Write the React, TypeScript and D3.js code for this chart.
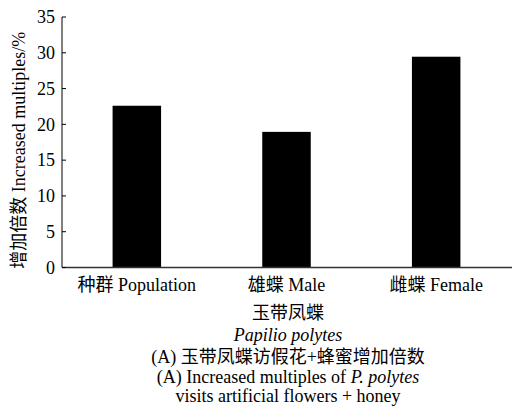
import React from "react";
import * as d3 from "d3";

const categories = ["种群 Population", "雄蝶 Male", "雌蝶 Female"];
const values = [22.6, 18.95, 29.45];
const yTicks = [0, 5, 10, 15, 20, 25, 30, 35];
const yLabel = "增加倍数 Increased multiples/%";
const groupLabel = "玉带凤蝶";
const speciesLabel = "Papilio polytes";
const captionCN = "(A) 玉带凤蝶访假花+蜂蜜增加倍数";
const captionEN1 = "(A) Increased multiples of ";
const captionEN1i = "P. polytes";
const captionEN2 = "visits artificial flowers + honey";

const W = 512, H = 417;
const m = { left: 62, right: 1, top: 17, bottom: 150 };
const FONT = "'Liberation Serif', 'Times New Roman', 'Noto Sans CJK SC', serif";

export default function App() {
  const x = d3.scaleBand<string>().domain(categories).range([m.left, W - m.right]).paddingInner(0.676).paddingOuter(0.338);
  const y = d3.scaleLinear().domain([0, 35]).range([267.5, m.top]);
  const fs = 18;
  const cx = 288;
  const T = (p: any) => <text style={{ fontFamily: FONT, fontSize: fs }} fill="#000" {...p} />;
  return (
    <svg width={W} height={H} style={{ position: "absolute", left: 0, top: 0, fontFamily: FONT }}>
      <rect width={W} height={H} fill="#fff" />
      {categories.map((c, i) => (
        <rect key={c} x={x(c)!} y={y(values[i])} width={x.bandwidth()} height={y(0) - y(values[i])} fill="#000" />
      ))}
      <line x1={m.left} x2={m.left} y1={y(35)} y2={y(0)} stroke="#000" strokeWidth={1} />
      <line x1={m.left} x2={W} y1={y(0)} y2={y(0)} stroke="#333" strokeWidth={1.5} />
      {yTicks.map((t) => (
        <g key={t}>
          <line x1={m.left} x2={m.left + 4} y1={y(t)} y2={y(t)} stroke="#000" />
          {T({ x: m.left - 7, y: y(t), dy: "0.35em", textAnchor: "end", children: t })}
        </g>
      ))}
      {categories.map((c) => (
        <React.Fragment key={c}>
          {T({ x: x(c)! + x.bandwidth() / 2, y: 291, textAnchor: "middle", children: c })}
        </React.Fragment>
      ))}
      {T({ transform: `translate(25,${(y(35) + y(0)) / 2 + 8}) rotate(-90)`, textAnchor: "middle", children: yLabel })}
      {T({ x: cx, y: 319, textAnchor: "middle", children: groupLabel })}
      {T({ x: cx, y: 341, textAnchor: "middle", fontStyle: "italic", children: speciesLabel })}
      {T({ x: cx, y: 363, textAnchor: "middle", children: captionCN })}
      {T({ x: cx, y: 383, textAnchor: "middle", children: [captionEN1, <tspan key="i" fontStyle="italic">{captionEN1i}</tspan>] })}
      {T({ x: cx, y: 402, textAnchor: "middle", children: captionEN2 })}
    </svg>
  );
}
